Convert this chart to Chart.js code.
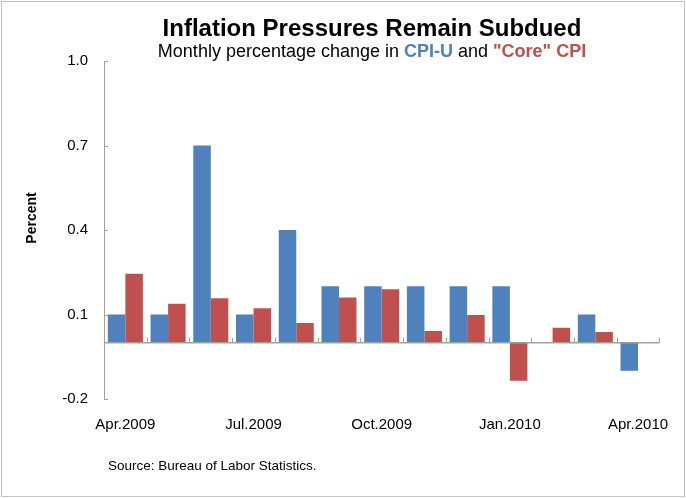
<!DOCTYPE html>
<html>
<head>
<meta charset="utf-8">
<script src="https://cdn.jsdelivr.net/npm/chart.js@4"></script>
<style>
  body { margin: 0; background: #fff; }
</style>
</head>
<body>
<canvas id="chartBar" width="686" height="498"></canvas>
<script>
const months = ['Apr.2009', 'May.2009', 'Jun.2009', 'Jul.2009', 'Aug.2009', 'Sep.2009', 'Oct.2009', 'Nov.2009', 'Dec.2009', 'Jan.2010', 'Feb.2010', 'Mar.2010', 'Apr.2010'];
const cpiU = [0.1, 0.1, 0.7, 0.1, 0.4, 0.2, 0.2, 0.2, 0.2, 0.2, 0.0, 0.1, -0.1];
const coreCpi = [0.245, 0.138, 0.158, 0.122, 0.07, 0.16, 0.19, 0.041, 0.098, -0.135, 0.053, 0.038, 0.0];
const yTicks = [-0.2, 0.1, 0.4, 0.7, 1.0];

const blue = '#4f81bd';
const red = '#c0504d';
const axisGray = '#a0a0a0';
const fontFamily = '"Liberation Sans", Arial, sans-serif';

// titles, border, zero line and small tick marks
const decorations = {
    id: 'decorations',
    beforeDraw(chart) {
        const ctx = chart.ctx;
        ctx.save();
        ctx.fillStyle = '#fff';
        ctx.fillRect(0, 0, chart.width, chart.height);
        ctx.strokeStyle = '#c4c4c4';
        ctx.lineWidth = 1;
        ctx.strokeRect(1.5, 1.5, chart.width - 3, chart.height - 3);
        ctx.restore();
    },
    afterDatasetsDraw(chart) {
        const ctx = chart.ctx;
        const x = chart.scales.x;
        const y = chart.scales.y;
        const area = chart.chartArea;
        const zero = y.getPixelForValue(0);
        ctx.save();
        ctx.strokeStyle = axisGray;
        ctx.lineWidth = 1.5;
        ctx.beginPath();
        ctx.moveTo(area.left, zero);
        ctx.lineTo(area.right, zero);
        ctx.stroke();
        ctx.lineWidth = 1;
        const half = (x.getPixelForValue(1) - x.getPixelForValue(0)) / 2;
        ctx.beginPath();
        months.forEach((m, i) => {
            const px = Math.round(x.getPixelForValue(i) + half) + 0.5;
            ctx.moveTo(px, zero);
            ctx.lineTo(px, zero - 5);
        });
        yTicks.forEach(v => {
            const py = Math.round(y.getPixelForValue(v)) + 0.5;
            ctx.moveTo(area.left, py);
            ctx.lineTo(area.left + 4, py);
        });
        ctx.stroke();

        // title
        ctx.fillStyle = '#000';
        ctx.textAlign = 'center';
        ctx.textBaseline = 'alphabetic';
        ctx.font = 'bold 24px ' + fontFamily;
        ctx.fillText('Inflation Pressures Remain Subdued', 372, 36);

        // subtitle in parts
        const parts = [
            { t: 'Monthly percentage change in ', c: '#000', b: false },
            { t: 'CPI-U', c: blue, b: true },
            { t: ' and ', c: '#000', b: false },
            { t: '"Core" CPI', c: red, b: true }
        ];
        const fontOf = p => (p.b ? 'bold ' : '') + '18px ' + fontFamily;
        let total = 0;
        parts.forEach(p => { ctx.font = fontOf(p); total += ctx.measureText(p.t).width; });
        let cx = 372 - total / 2;
        ctx.textAlign = 'left';
        parts.forEach(p => {
            ctx.font = fontOf(p);
            ctx.fillStyle = p.c;
            ctx.fillText(p.t, cx, 57);
            cx += ctx.measureText(p.t).width;
        });

        // y axis title
        ctx.fillStyle = '#000';
        ctx.font = 'bold 14px ' + fontFamily;
        ctx.save();
        ctx.translate(32, 218);
        ctx.rotate(-Math.PI / 2);
        ctx.textAlign = 'center';
        ctx.textBaseline = 'middle';
        ctx.fillText('Percent', 0, 0);
        ctx.restore();

        // source
        ctx.font = '13.5px ' + fontFamily;
        ctx.textAlign = 'left';
        ctx.fillText('Source: Bureau of Labor Statistics.', 108, 470);
        ctx.restore();
    }
};

const cvsBar = document.getElementById('chartBar').getContext('2d');
const chartBar = new Chart(cvsBar, {
    type: 'bar',
    data: {
        labels: months,
        datasets: [{
            label: 'CPI-U',
            data: cpiU,
            backgroundColor: blue,
            borderWidth: 0
        }, {
            label: '"Core" CPI',
            data: coreCpi,
            backgroundColor: red,
            borderWidth: 0
        }]
    },
    plugins: [decorations],
    options: {
        responsive: false,
        animation: false,
        devicePixelRatio: 1,
        categoryPercentage: 0.82,
        barPercentage: 1.0,
        layout: {
            autoPadding: false,
            padding: { top: 61, right: 24, bottom: 64, left: 10 }
        },
        scales: {
            x: {
                grid: { display: false, drawTicks: false },
                border: { display: false },
                afterFit: scale => { scale.height = 35; },
                ticks: {
                    autoSkip: false,
                    maxRotation: 0,
                    padding: 17,
                    color: '#000',
                    font: { family: fontFamily, size: 15 },
                    callback: (val, i) => i % 3 === 0 ? months[i] : ''
                }
            },
            y: {
                min: -0.2,
                max: 1.0,
                grid: { display: false, drawTicks: false },
                border: { display: true, color: axisGray, width: 1 },
                afterFit: scale => { scale.width = 94; },
                afterBuildTicks: scale => { scale.ticks = yTicks.map(v => ({ value: v })); },
                ticks: {
                    padding: 16,
                    color: '#000',
                    font: { family: fontFamily, size: 15 },
                    callback: v => v.toFixed(1)
                }
            }
        },
        plugins: {
            legend: { display: false },
            tooltip: { enabled: false }
        }
    }
});
</script>
</body>
</html>
